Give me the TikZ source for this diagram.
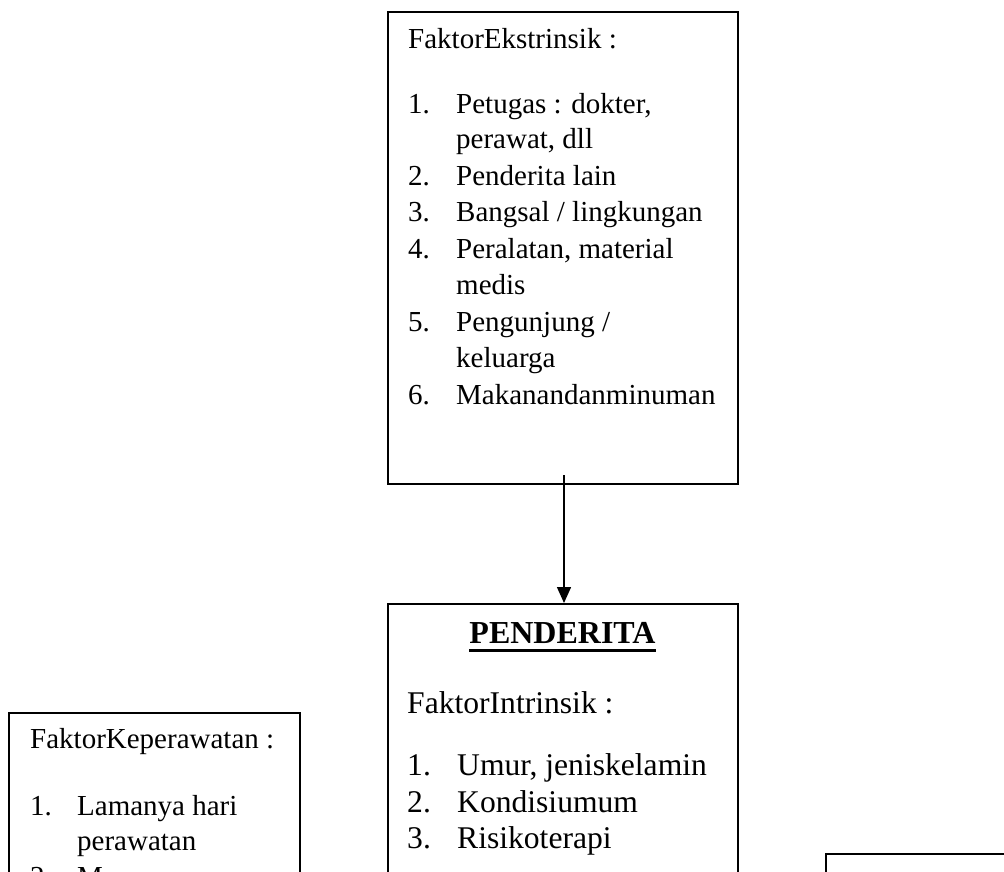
\documentclass[tikz,border=0pt]{standalone}
\usepackage{fontspec}
\setmainfont{Liberation Serif}
\usetikzlibrary{arrows.meta}
\tikzset{
  box/.style={draw=black, line width=2pt, rectangle, anchor=north west, inner sep=0pt},
  txt/.style={anchor=base west, inner sep=0pt, font=\fontsize{29}{35}\selectfont},
  bigtxt/.style={anchor=base west, inner sep=0pt, font=\fontsize{31.6}{37}\selectfont},
  arr/.style={line width=1.5pt, -{Triangle[length=16pt,width=14pt]}}
}
\begin{document}
\begin{tikzpicture}[x=1pt,y=-1pt]
\useasboundingbox (0,0) rectangle (1004,871);
\clip (0,0) rectangle (1004,871);
% boxes
\node[box, minimum width=350pt, minimum height=472pt] (ext) at (387,11) {};
\node[box, minimum width=350pt, minimum height=400pt] (pend) at (387,603) {};
\node[box, minimum width=291pt, minimum height=300pt] (kep) at (8,712) {};
\node[box, minimum width=300pt, minimum height=200pt] (rbox) at (825,853) {};
% connector
\draw[arr] ([xshift=1pt,yshift=10pt]ext.south) -- ([xshift=1pt]pend.north);
% top box text
\node[txt] (e0) at (408,48) {FaktorEkstrinsik :};
\node[txt] (e1n) at (408,113) {1.};
\node[txt] (e1) at (456,113) {Petugas : dokter,};
\node[txt] (e1b) at (456,148.5) {perawat, dll};
\node[txt] (e2n) at (408,185) {2.};
\node[txt] (e2) at (456,185) {Penderita lain};
\node[txt] (e3n) at (408,221.5) {3.};
\node[txt] (e3) at (456,221.5) {Bangsal / lingkungan};
\node[txt] (e4n) at (408,258) {4.};
\node[txt] (e4) at (456,258) {Peralatan, material};
\node[txt] (e4b) at (456,294.5) {medis};
\node[txt] (e5n) at (408,331) {5.};
\node[txt] (e5) at (456,331) {Pengunjung /};
\node[txt] (e5b) at (456,367.5) {keluarga};
\node[txt] (e6n) at (408,404) {6.};
\node[txt] (e6) at (456,404) {Makanandanminuman};
% penderita box text
\node[anchor=base, inner sep=0pt, font=\fontsize{32}{37}\selectfont\bfseries] (ptitle) at (562.5,643) {PENDERITA};
\draw[line width=3pt] ([yshift=-7pt]ptitle.base west) -- ([yshift=-7pt]ptitle.base east);
\node[bigtxt] (i0) at (407,713) {FaktorIntrinsik :};
\node[bigtxt] (i1n) at (407,775) {1.};
\node[bigtxt] (i1) at (457,775) {Umur, jeniskelamin};
\node[bigtxt] (i2n) at (407,812) {2.};
\node[bigtxt] (i2) at (457,812) {Kondisiumum};
\node[bigtxt] (i3n) at (407,848) {3.};
\node[bigtxt] (i3) at (457,848) {Risikoterapi};
% left box text
\node[txt] (k0) at (30,748) {FaktorKeperawatan :};
\node[txt] (k1n) at (30,815) {1.};
\node[txt] (k1) at (77,815) {Lamanya hari};
\node[txt] (k1b) at (77,850) {perawatan};
\node[txt] (k2n) at (30,886) {2.};
\node[txt] (k2) at (77,886) {M};
\end{tikzpicture}
\end{document}
